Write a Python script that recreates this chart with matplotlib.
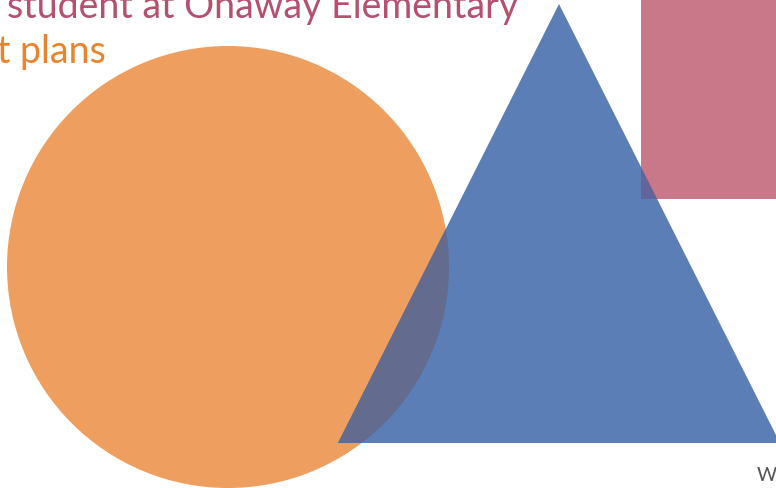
import matplotlib
matplotlib.use("Agg")
import matplotlib.pyplot as plt
from matplotlib.patches import Circle, Polygon, Rectangle

# shapes (pixel coordinates of the canvas)
circle_center = (228, 268)
circle_radius = 221
triangle_pts = [(559, 5), (338, 444), (780, 444)]
square_xy = (641, -10)
square_size = (150, 210)

title_lines = ["student at Onaway Elementary", "t plans"]
footer_text = "W"

W, H = 776, 489
fig = plt.figure(figsize=(W / 100, H / 100), dpi=100)
ax = fig.add_axes([0, 0, 1, 1])
ax.set_xlim(0, W)
ax.set_ylim(H, 0)
ax.axis("off")

circ = Circle(circle_center, circle_radius, facecolor="#EE9E5E", edgecolor="none", zorder=1)
ax.add_patch(circ)
tri = Polygon(triangle_pts, closed=True, facecolor="#5A7EB5", edgecolor="none", zorder=2)
ax.add_patch(tri)
sq = Rectangle(square_xy, *square_size, facecolor="#C87889", edgecolor="none", zorder=3)
ax.add_patch(sq)

# overlap areas
ov1 = Circle(circle_center, circle_radius, facecolor="#636C8E", edgecolor="none", zorder=4)
ax.add_patch(ov1)
ov1.set_clip_path(tri)
ov2 = Rectangle(square_xy, *square_size, facecolor="#62649A", edgecolor="none", zorder=5)
ax.add_patch(ov2)
ov2.set_clip_path(tri)

ax.text(7, 18, title_lines[0], color="#B5506F", fontsize=27, family="Lato",
        va="baseline", ha="left", zorder=6)
ax.text(-3, 63, title_lines[1], color="#E9832C", fontsize=27, family="Lato",
        va="baseline", ha="left", zorder=6)
ax.text(757, 481, footer_text, color="#555555", fontsize=14, family="Lato",
        va="baseline", ha="left", zorder=6)

fig.savefig("out.png", dpi=100)
